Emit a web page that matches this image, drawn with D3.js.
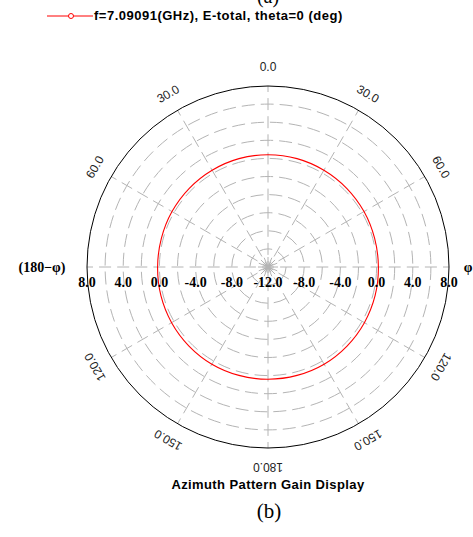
<!DOCTYPE html>
<html>
<head>
<meta charset="utf-8">
<script src="https://cdn.jsdelivr.net/npm/d3@7"></script>
<style>
  body { margin: 0; background: #fff; }
  svg { display: block; }
</style>
</head>
<body>
<div id="chart"></div>
<script>
// gain (dB) vs azimuth phi (deg)
var phiDeg = [0, 15, 30, 45, 60, 75, 90, 105, 120, 135, 150, 165, 180,
              195, 210, 225, 240, 255, 270, 285, 300, 315, 330, 345];
var gainDb = [0.4, 0.4, 0.35, 0.3, 0.25, 0.2, 0.2, 0.25, 0.3, 0.35, 0.4, 0.4, 0.4,
              0.4, 0.4, 0.35, 0.3, 0.25, 0.2, 0.2, 0.25, 0.3, 0.35, 0.4];
var ringTicks = [8, 4, 0, -4, -8, -12];
var angleLabels = [
  {a: 0, t: "0.0"}, {a: 30, t: "30.0"}, {a: 60, t: "60.0"},
  {a: 120, t: "120.0"}, {a: 150, t: "150.0"}, {a: 180, t: "180.0"},
  {a: 210, t: "150.0"}, {a: 240, t: "120.0"}, {a: 300, t: "60.0"}, {a: 330, t: "30.0"}
];
var legendText = "f=7.09091(GHz), E-total, theta=0 (deg)";

var width = 473, height = 537;
var cx = 268, cy = 267, R = 181;

var svg = d3.select("#chart").append("svg")
  .attr("width", width)
  .attr("height", height);

var r = d3.scaleLinear().domain([-12, 8]).range([0, R]);
var rad = function (deg) { return deg * Math.PI / 180; };

// cut-off caption of the panel above
svg.append("text")
  .attr("x", 268).attr("y", 3)
  .attr("text-anchor", "middle")
  .style("font", "20px 'Liberation Serif', serif")
  .text("(a)");

// legend
var leg = svg.append("g");
leg.append("line")
  .attr("x1", 47).attr("x2", 93).attr("y1", 16).attr("y2", 16)
  .attr("stroke", "red").attr("stroke-width", 1);
leg.append("circle")
  .attr("cx", 71).attr("cy", 16).attr("r", 2.5)
  .attr("fill", "#fff").attr("stroke", "red");
leg.append("text")
  .attr("x", 94).attr("y", 20)
  .style("font", "bold 13px 'Liberation Sans', Arial, sans-serif")
  .style("letter-spacing", "0.5px")
  .text(legendText);

var g = svg.append("g")
  .attr("transform", "translate(" + cx + "," + cy + ")");

// dashed rings every 2 dB
var rings = d3.range(-10, 8, 2);
g.selectAll(".ring")
  .data(rings)
  .enter().append("circle")
  .attr("class", "ring")
  .attr("r", function (d) { return r(d); })
  .attr("fill", "none")
  .attr("stroke", "#b4b4b4")
  .attr("stroke-dasharray", "13,6");

// spokes every 30 deg, dashes crossing the rings
var step = r(-10) - r(-12);
g.selectAll(".spoke")
  .data(d3.range(0, 360, 30))
  .enter().append("line")
  .attr("class", "spoke")
  .attr("x1", function (d) { return R * Math.sin(rad(d)); })
  .attr("y1", function (d) { return -R * Math.cos(rad(d)); })
  .attr("x2", 0).attr("y2", 0)
  .attr("stroke", "#b4b4b4")
  .attr("stroke-dasharray", "12," + (step - 12))
  .attr("stroke-dashoffset", 6);

// centre star
g.selectAll(".star")
  .data(d3.range(0, 360, 22.5))
  .enter().append("line")
  .attr("class", "star")
  .attr("x1", 0).attr("y1", 0)
  .attr("x2", function (d) { return 10 * Math.sin(rad(d)); })
  .attr("y2", function (d) { return -10 * Math.cos(rad(d)); })
  .attr("stroke", "#b4b4b4");
g.append("circle").attr("r", 2.5).attr("fill", "#b4b4b4");

// outer circle
g.append("circle")
  .attr("r", R)
  .attr("fill", "none")
  .attr("stroke", "#000")
  .attr("stroke-width", 1);

// trace
var pts = phiDeg.map(function (p, i) { return [rad(p), r(gainDb[i])]; });
g.append("path")
  .datum(pts)
  .attr("d", d3.lineRadial().curve(d3.curveCardinalClosed))
  .attr("fill", "none")
  .attr("stroke", "red")
  .attr("stroke-width", 1.1);

// radial tick labels on both sides of the horizontal axis
var radFont = "bold 14px 'Liberation Serif', 'Times New Roman', serif";
[-1, 1].forEach(function (s) {
  g.selectAll(".rl" + s)
    .data(s < 0 ? ringTicks : ringTicks.slice(0, 5))
    .enter().append("text")
    .attr("x", function (d) { return s * r(d); })
    .attr("y", 20)
    .attr("text-anchor", "middle")
    .style("font", radFont)
    .text(function (d) { return d.toFixed(1); });
});

// angle labels, rotated along the circle
g.selectAll(".al")
  .data(angleLabels)
  .enter().append("text")
  .attr("transform", function (d) {
    var x = (R + 19) * Math.sin(rad(d.a)), y = -(R + 19) * Math.cos(rad(d.a));
    return "translate(" + x + "," + y + ") rotate(" + d.a + ")";
  })
  .attr("text-anchor", "middle")
  .attr("dy", "0.35em")
  .style("font", "12px 'Liberation Sans', Arial, sans-serif")
  .attr("fill", "#222")
  .text(function (d) { return d.t; });

var axFont = "bold 14px 'Liberation Serif', 'Times New Roman', serif";
svg.append("text")
  .attr("x", 42).attr("y", 272)
  .attr("text-anchor", "middle")
  .style("font", axFont)
  .text("(180\u2212\u03c6)");
svg.append("text")
  .attr("x", 468).attr("y", 272)
  .attr("text-anchor", "middle")
  .style("font", axFont)
  .text("\u03c6");

// title and caption
svg.append("text")
  .attr("x", 268).attr("y", 489)
  .attr("text-anchor", "middle")
  .style("font", "bold 13px 'Liberation Sans', Arial, sans-serif")
  .style("letter-spacing", "0.4px")
  .text("Azimuth Pattern Gain Display");
svg.append("text")
  .attr("x", 269).attr("y", 518)
  .attr("text-anchor", "middle")
  .style("font", "21px 'Liberation Serif', 'Times New Roman', serif")
  .text("(b)");
</script>
</body>
</html>
